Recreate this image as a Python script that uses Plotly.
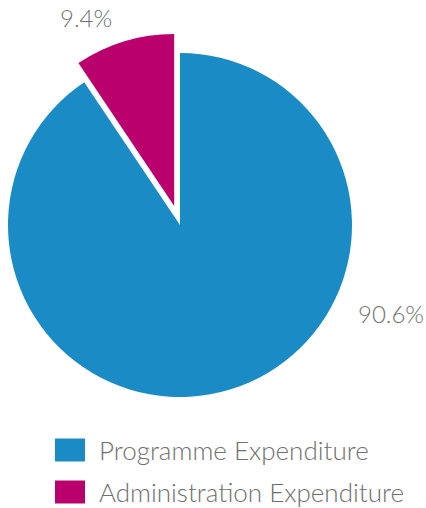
import math
import plotly.graph_objects as go

# Expenditure split (percent)
categories = ["Programme Expenditure", "Administration Expenditure"]
values = [90.6, 9.4]
colors = ["#1b8bc6", "#b9006d"]

W, H = 426, 508
CX, CY, R = 180.0, 225.0, 172.0   # pie centre and radius in px
PULL = 0.116                       # pull-out of the small slice, fraction of R
TEXT_GREY = "#707070"
FONT = "Lato"

total = sum(values)


def domain_for(cx, cy, r):
    return dict(x=[(cx - r) / W, (cx + r) / W],
                y=[1 - (cy + r) / H, 1 - (cy - r) / H])


fig = go.Figure()

# one pie trace per slice, each drawing only its own slice so the small
# slice can be offset along its bisector without shrinking the radius
cum = 0.0
for i, v in enumerate(values):
    mid = 2 * math.pi * (cum + v / 2) / total  # clockwise from 12 o'clock
    cum += v
    off = PULL * R if i == 1 else 0.0
    cx = CX + off * math.sin(mid)
    cy = CY - off * math.cos(mid)
    slice_colors = [colors[j] if j == i else "rgba(0,0,0,0)" for j in range(len(values))]
    fig.add_trace(go.Pie(
        labels=categories,
        values=values,
        sort=False,
        direction="clockwise",
        rotation=0,
        marker=dict(colors=slice_colors, line=dict(width=0)),
        textinfo="none",
        hoverinfo="skip" if i else "label+percent",
        showlegend=False,
        domain=domain_for(cx, cy, R),
    ))

# percentage labels
label_pos = [(391, 313), (86, 17)]
for v, (x, y) in zip(values, label_pos):
    fig.add_annotation(x=x / W, y=1 - y / H, xref="paper", yref="paper",
                       text=f"{v}%", showarrow=False,
                       font=dict(family=FONT, size=24, color=TEXT_GREY, weight=300),
                       xanchor="center", yanchor="middle")

# legend: coloured keys with category names
legend_rows = [450, 492]
for name, col, y in zip(categories, colors, legend_rows):
    fig.add_shape(type="rect", xref="paper", yref="paper",
                  x0=55 / W, x1=85 / W, y0=1 - (y + 11.5) / H, y1=1 - (y - 11.5) / H,
                  fillcolor=col, line=dict(width=0))
    fig.add_annotation(x=97 / W, y=1 - y / H, xref="paper", yref="paper",
                       text=name, showarrow=False,
                       font=dict(family=FONT, size=26, color=TEXT_GREY, weight=300),
                       xanchor="left", yanchor="middle")

fig.update_layout(
    width=W, height=H,
    margin=dict(l=0, r=0, t=0, b=0),
    paper_bgcolor="white",
    plot_bgcolor="white",
    showlegend=False,
)

fig.write_html("out.html")
